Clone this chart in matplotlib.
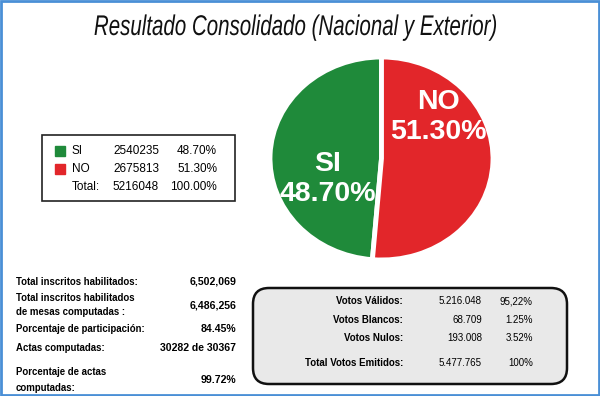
import matplotlib.pyplot as plt
from matplotlib.patches import Rectangle, FancyBboxPatch
from matplotlib.patheffects import AbstractPathEffect
from matplotlib.transforms import Affine2D

# data
options = ['SI', 'NO']
votes = [2540235, 2675813]
shares = [48.70, 51.30]
total_votes = 5216048
colors = ['#1f8a3a', '#e2262a']
dark_colors = ['#115a24', '#a5161b']

stat_labels = ['Total inscritos habilitados:',
               'Total inscritos habilitados\nde mesas computadas :',
               'Porcentaje de participación:',
               'Actas computadas:',
               'Porcentaje de actas\ncomputadas:']
stat_values = ['6,502,069', '6,486,256', '84.45%', '30282 de 30367', '99.72%']

box_labels = ['Votos Válidos:', 'Votos Blancos:', 'Votos Nulos:', 'Total Votos Emitidos:']
box_values = ['5.216.048', '68.709', '193.008', '5.477.765']
box_pcts = ['95,22%', '1.25%', '3.52%', '100%']

plt.rcParams['font.family'] = ['Liberation Sans', 'DejaVu Sans']


# squeeze text horizontally (no narrow font installed)
class Squeeze(AbstractPathEffect):
    def __init__(self, sx, cx):
        super().__init__()
        self.sx, self.cx = sx, cx

    def draw_path(self, renderer, gc, tpath, affine, rgbFace=None):
        t = affine + Affine2D().translate(-self.cx, 0).scale(self.sx, 1).translate(self.cx, 0)
        renderer.draw_path(gc, tpath, t, rgbFace)


fig = plt.figure(figsize=(6, 3.96), dpi=100)
ax = fig.add_axes([0, 0, 1, 1])
ax.set_xlim(0, 600)
ax.set_ylim(396, 0)
ax.axis('off')

# outer frame
ax.add_patch(Rectangle((1, 1), 598, 394, fill=False, edgecolor='#4a8fd6', lw=2))

ax.text(296, 28, 'Resultado Consolidado (Nacional y Exterior)', ha='center', va='center',
        fontsize=20.5, style='italic', color='#111111',
        path_effects=[Squeeze(0.72, 296)])

# pie (slightly squashed, with a darker rim underneath)
W, H = 600, 396
px, py, pw, ph = 270, 57, 223, 203
ax_shadow = fig.add_axes([px / W, 1 - (py + ph + 4) / H, pw / W, ph / H])
ax_pie = fig.add_axes([px / W, 1 - (py + ph) / H, pw / W, ph / H])
for a, cols in [(ax_shadow, dark_colors), (ax_pie, colors)]:
    a.pie(votes, colors=cols, startangle=90, counterclock=True,
          wedgeprops=dict(edgecolor='white', linewidth=3.5))
    a.set_aspect('auto')
    a.set_xlim(-1.0, 1.0)
    a.set_ylim(-1.0, 1.0)
    a.axis('off')

ax_pie.text(-0.48, -0.2, f'{options[0]}\n{shares[0]:.2f}%', ha='center', va='center',
            color='white', fontsize=20.5, fontweight='bold', linespacing=1.2)
ax_pie.text(0.51, 0.41, f'{options[1]}\n{shares[1]:.2f}%', ha='center', va='center',
            color='white', fontsize=20.5, fontweight='bold', linespacing=1.2)

# legend table
ax.add_patch(Rectangle((42, 135), 193, 66, fill=False, edgecolor='#222222', lw=1.2))
rows_y = [151, 169, 187]
for i in range(2):
    ax.add_patch(Rectangle((55, rows_y[i] - 5), 10, 10, color=colors[i]))
    ax.text(72, rows_y[i], options[i], va='center', fontsize=8.5)
    ax.text(159, rows_y[i], str(votes[i]), va='center', ha='right', fontsize=8.5)
    ax.text(217, rows_y[i], f'{shares[i]:.2f}%', va='center', ha='right', fontsize=8.5)
ax.text(72, rows_y[2], 'Total:', va='center', fontsize=8.5)
ax.text(159, rows_y[2], str(total_votes), va='center', ha='right', fontsize=8.5)
ax.text(217, rows_y[2], f'{sum(shares):.2f}%', va='center', ha='right', fontsize=8.5)

# left statistics
stat_y = [282, 305, 329, 348, 380]
stat_spacing = [1.2, 1.5, 1.2, 1.2, 1.65]
for lab, val, y, ls in zip(stat_labels, stat_values, stat_y, stat_spacing):
    ax.text(16, y, lab, va='center', fontsize=6.9, fontweight='bold', linespacing=ls)
    ax.text(236, y, val, va='center', ha='right', fontsize=7.6, fontweight='bold')

# rounded summary box
ax.add_patch(FancyBboxPatch((253, 288), 314, 96, boxstyle='round,pad=0,rounding_size=16',
                            facecolor='#e9e9e9', edgecolor='#111111', lw=1.8))
box_y = [301, 320, 338, 363]
for lab, val, pct, y in zip(box_labels, box_values, box_pcts, box_y):
    ax.text(403, y, lab, va='center', ha='right', fontsize=7, fontweight='bold')
    ax.text(482, y, val, va='center', ha='right', fontsize=7)
    ax.text(533, y, pct, va='center', ha='right', fontsize=7)

fig.savefig('out.png', dpi=100)
